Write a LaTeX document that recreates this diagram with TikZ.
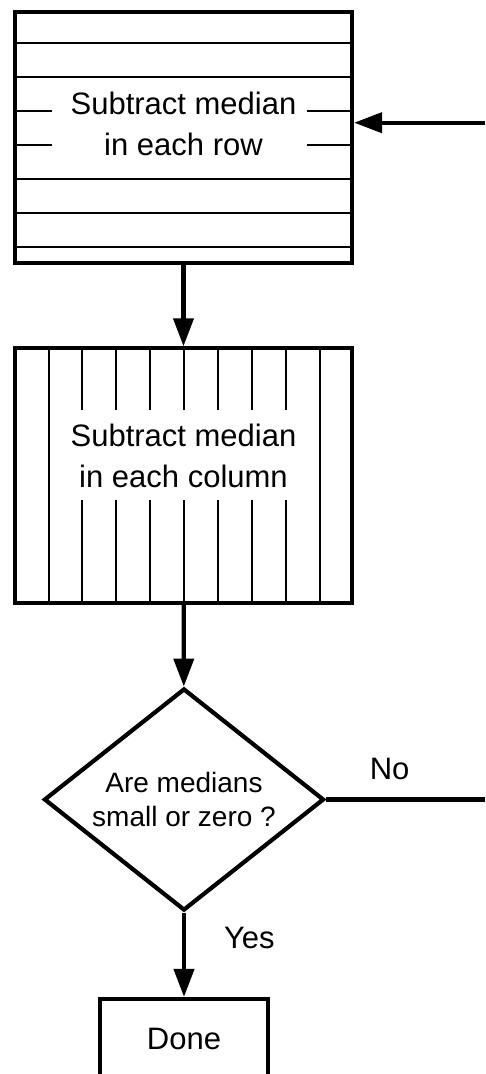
\documentclass[tikz,border=0pt]{standalone}
\usepackage{fontspec}
\setmainfont{Liberation Sans}
\usetikzlibrary{arrows.meta,positioning,shapes.geometric}

\begin{document}
\begin{tikzpicture}[
    x=1pt, y=-1pt,
    >={Triangle[length=28pt,width=20pt]},
    line width=4.2pt,
    stepbox/.style={rectangle, draw=black, minimum width=337pt, inner sep=0pt},
    decision/.style={diamond, draw=black, minimum width=280pt, minimum height=222pt, inner sep=0pt},
    label text/.style={font=\fontsize{31}{41}\selectfont, align=center, inner sep=0pt},
    small text/.style={font=\fontsize{28}{33.3}\selectfont, align=center, inner sep=0pt},
    hatch/.style={line width=1.2pt}
]
    \useasboundingbox (0,0) rectangle (485,1074);

    % boxes
    \node[stepbox, minimum height=251.6pt] (rows) at (183.5,137.5) {};
    \node[stepbox, minimum height=254.7pt] (cols) at (183.5,475.7) {};
    \node[decision] (test) at (184,799.5) {};
    \node[stepbox, minimum width=168pt, minimum height=80pt, label text] (done) at (184,1039) {Done};

    % texts
    \node[label text] (rowstext) at (183.5,123.5) {Subtract median\\in each row};
    \node[label text] (colstext) at (183.5,456) {Subtract median\\in each column};
    \node[small text] (testtext) at (184,799.5) {Are medians\\small or zero ?};

    % hatching
    \foreach \y in {43,77,179,213,247}
        \draw[hatch] (15,\y) -- (352,\y);
    \foreach \y in {111,145} {
        \draw[hatch] (15,\y) -- (52,\y);
        \draw[hatch] (307,\y) -- (352,\y);
    }
    \foreach \x in {49,320}
        \draw[hatch] (\x,348.3) -- (\x,603);
    \foreach \x in {82,116,150,184,218,252,286} {
        \draw[hatch] (\x,348.3) -- (\x,410);
        \draw[hatch] (\x,500) -- (\x,603);
    }

    \coordinate (loop) at (485,122.7);
    \coordinate (noend) at (485,799.5);

    \draw[->] (rows) -- (cols);
    \draw[->] (cols) -- (test);
    \draw[->] (loop) -- (rows.east |- loop);
    \draw (test.east) -- node[label text, pos=0.4, above=18pt] (nolabel) {No} (noend);
    \draw[->] (test.south) -- node[label text, pos=0.3, right=38pt] (yeslabel) {Yes} (done.north);
\end{tikzpicture}
\end{document}
